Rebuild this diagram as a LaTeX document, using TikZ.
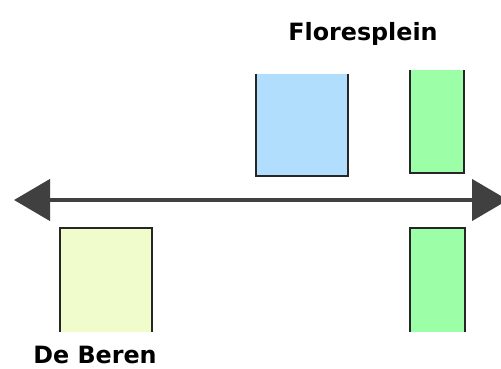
\documentclass[tikz,border=0pt]{standalone}
\usepackage{fontspec}
\setmainfont{DejaVu Sans}
\usetikzlibrary{arrows.meta}
\definecolor{platblue}{RGB}{176,222,252}
\definecolor{platgreen}{RGB}{156,255,168}
\definecolor{platyellow}{RGB}{240,252,204}
\definecolor{trackgray}{RGB}{64,64,64}
\begin{document}
\begin{tikzpicture}[x=1pt,y=-1pt,
  platform/.style={draw=black!85, line width=2pt},
  stopname/.style={font=\fontsize{23.8}{28}\selectfont\bfseries, text=black}]
\useasboundingbox (0,0) rectangle (501,369);
\coordinate (L) at (14,200);
\coordinate (R) at (508,200);
% track
\draw[trackgray, line width=4.5pt, {Triangle[length=36pt,width=41pt]}-{Triangle[length=36pt,width=41pt]}] (L) -- (R);
% platforms above the track
\draw[platform, fill=platblue]   (256,74) -- (256,176) -- (348,176) -- (348,74);
\draw[platform, fill=platgreen]  (410,70) -- (410,173) -- (464,173) -- (464,70);
% platforms below the track
\draw[platform, fill=platyellow] (60,332) -- (60,228) -- (152,228) -- (152,332);
\draw[platform, fill=platgreen]  (410,332) -- (410,228) -- (465,228) -- (465,332);
\node[stopname] (flores) at (363,34) {Floresplein};
\node[stopname] (beren) at (95,355) {De Beren};
\end{tikzpicture}
\end{document}
